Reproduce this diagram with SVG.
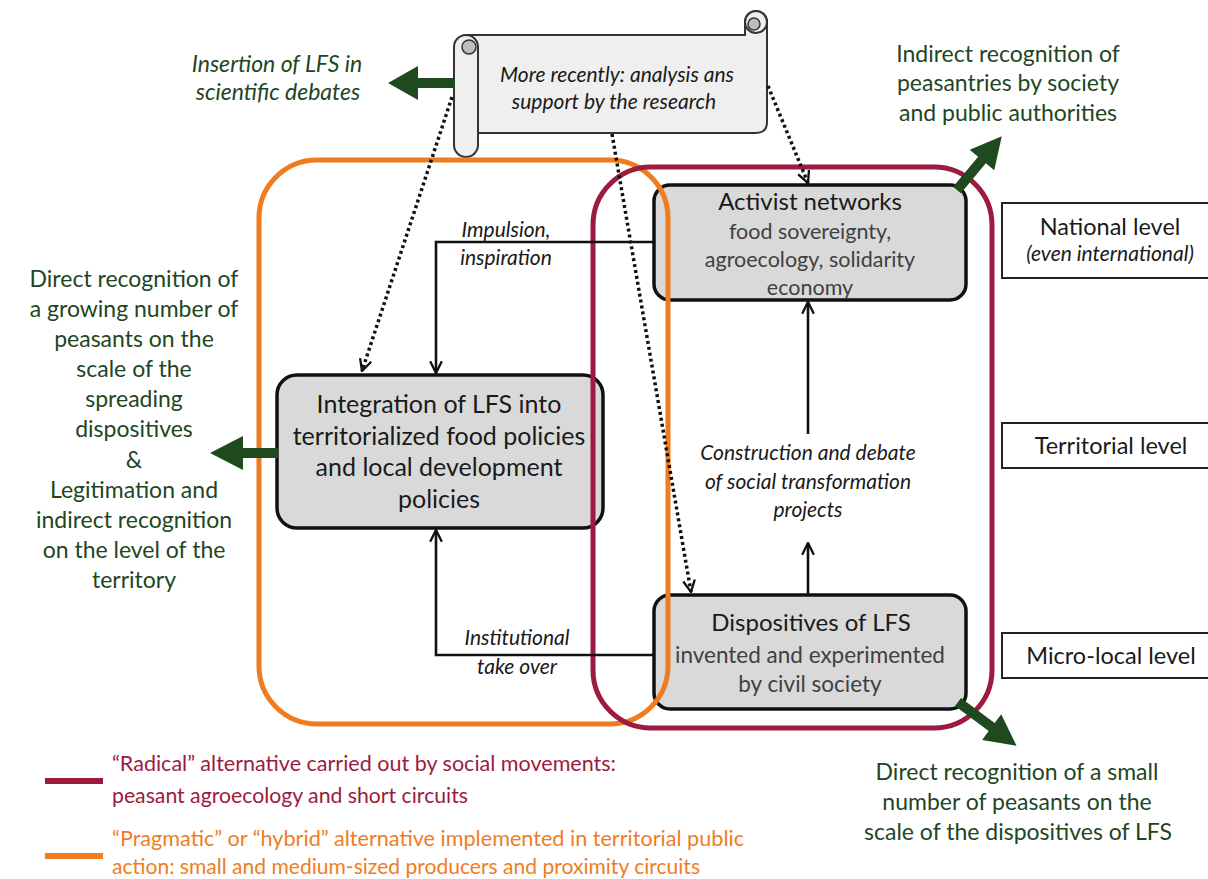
<svg xmlns="http://www.w3.org/2000/svg" width="1208" height="879" viewBox="0 0 1208 879">
  <defs>
    <style>
      .sans { font-family: Lato, "Liberation Sans", sans-serif; }
      .node { fill: #D9D9D9; stroke: #111; stroke-width: 3.5; }
      .title { font-family: Lato, "Liberation Sans", sans-serif; fill: #1a1a1a; text-anchor: middle; }
      .sub { font-family: Lato, "Liberation Sans", sans-serif; fill: #404040; text-anchor: middle; }
      .lbl { font-family: Lato, "Liberation Sans", sans-serif; font-style: italic; fill: #1a1a1a; text-anchor: middle; font-size: 21px; }
      .green { font-family: Lato, "Liberation Sans", sans-serif; fill: #1E461F; text-anchor: middle; font-size: 23px; }
      .level { fill: #fff; stroke: #222; stroke-width: 2; }
      .conn { fill: none; stroke: #111; stroke-width: 2.6; }
      .dots { fill: none; stroke: #111; stroke-width: 3.5; stroke-dasharray: 3 3; }
      .garrow { fill: #1E4A1E; }
      .scroll { fill: #EFEFEF; stroke: #333; stroke-width: 2; }
      .curl { fill: #BDBDBD; stroke: #333; stroke-width: 1.5; }
    </style>
    <marker id="head" viewBox="0 0 12 12" refX="11" refY="6" markerWidth="14" markerHeight="14" markerUnits="userSpaceOnUse" orient="auto">
      <path d="M1,1 L11,6 L1,11" fill="none" stroke="#111" stroke-width="2"/>
    </marker>
  </defs>

  <rect width="1208" height="879" fill="#fff"/>

  <!-- scroll: research -->
  <g id="research">
    <path class="scroll" d="M466,35 L745,35 L745,22 A11,11 0 0 1 767,22 L767,122 Q767,133 756,133 L466,133 Z"/>
    <circle class="scroll" cx="756" cy="22" r="11"/>
    <circle class="curl" cx="754" cy="24" r="6"/>
    <line x1="745" y1="22" x2="745" y2="35" stroke="#333" stroke-width="2"/>
    <rect class="scroll" x="454" y="35" width="24" height="122" rx="12"/>
    <circle class="curl" cx="469" cy="47" r="7"/>
    <text class="lbl" x="617" y="82">More recently: analysis ans</text>
    <text class="lbl" x="614" y="109">support by the research</text>
  </g>

  <!-- main nodes -->
  <g id="activist">
    <rect class="node" x="654" y="185" width="312" height="115" rx="16"/>
    <text class="title" x="810" y="210" font-size="24">Activist networks</text>
    <text class="sub" x="810" y="239" font-size="21.5">food sovereignty,</text>
    <text class="sub" x="810" y="267" font-size="21.5">agroecology, solidarity</text>
    <text class="sub" x="810" y="295" font-size="21.5">economy</text>
  </g>

  <g id="integration">
    <rect class="node" x="277" y="375" width="326" height="153" rx="20"/>
    <text class="title" x="439" y="413" font-size="25">Integration of LFS into</text>
    <text class="title" x="439" y="445" font-size="25">territorialized food policies</text>
    <text class="title" x="439" y="476" font-size="25">and local development</text>
    <text class="title" x="439" y="508" font-size="25">policies</text>
  </g>

  <g id="dispositives">
    <rect class="node" x="654" y="595" width="312" height="114" rx="16"/>
    <text class="title" x="811" y="631" font-size="24">Dispositives of LFS</text>
    <text class="sub" x="810" y="663" font-size="22.5">invented and experimented</text>
    <text class="sub" x="810" y="692" font-size="22.5">by civil society</text>
  </g>

  <!-- scale levels -->
  <g id="level-national">
    <rect class="level" x="1002" y="203" width="220" height="75"/>
    <text class="title" x="1110" y="235" font-size="23.5">National level</text>
    <text class="title" x="1110" y="261" font-size="21" font-style="italic">(even international)</text>
  </g>
  <g id="level-territorial">
    <rect class="level" x="1002" y="423" width="220" height="45"/>
    <text class="title" x="1111" y="454" font-size="23.5">Territorial level</text>
  </g>
  <g id="level-micro">
    <rect class="level" x="1002" y="633" width="220" height="45"/>
    <text class="title" x="1111" y="664" font-size="23.5">Micro-local level</text>
  </g>

  <!-- alternative envelopes -->
  <g id="envelope-hybrid">
    <rect x="259" y="160" width="409" height="564" rx="58" fill="none" stroke="#EF7D1F" stroke-width="5"/>
  </g>
  <g id="envelope-radical">
    <rect x="593" y="167" width="399" height="561" rx="58" fill="none" stroke="#9C1B3E" stroke-width="5"/>
  </g>

  <!-- outcome labels -->
  <g id="out-science">
    <text class="green" x="277" y="72" font-style="italic" font-size="22">Insertion of LFS in</text>
    <text class="green" x="278" y="100" font-style="italic" font-size="22">scientific debates</text>
  </g>
  <g id="out-national">
    <text class="green" x="1008" y="62">Indirect recognition of</text>
    <text class="green" x="1008" y="91">peasantries by society</text>
    <text class="green" x="1008" y="121">and public authorities</text>
  </g>
  <g id="out-territorial">
    <text class="green" x="134" y="287">Direct recognition of</text>
    <text class="green" x="134" y="317">a growing number of</text>
    <text class="green" x="134" y="347">peasants on the</text>
    <text class="green" x="134" y="377">scale of the</text>
    <text class="green" x="134" y="407">spreading</text>
    <text class="green" x="134" y="437">dispositives</text>
    <text class="green" x="134" y="468">&amp;</text>
    <text class="green" x="134" y="498">Legitimation and</text>
    <text class="green" x="134" y="528">indirect recognition</text>
    <text class="green" x="134" y="558">on the level of the</text>
    <text class="green" x="134" y="588">territory</text>
  </g>
  <g id="out-local">
    <text class="green" x="1017" y="780">Direct recognition of a small</text>
    <text class="green" x="1017" y="810">number of peasants on the</text>
    <text class="green" x="1018" y="840">scale of the dispositives of LFS</text>
  </g>

  <!-- connectors -->
  <g id="connectors">
    <!-- research influence (dotted) -->
    <line class="dots" x1="452" y1="97" x2="362" y2="371" marker-end="url(#head)"/>
    <line class="dots" x1="612" y1="134" x2="691" y2="592" marker-end="url(#head)"/>
    <line class="dots" x1="768" y1="86" x2="808" y2="183" marker-end="url(#head)"/>

    <!-- solid flows -->
    <path class="conn" d="M654,242 H436 V373" marker-end="url(#head)"/>
    <path class="conn" d="M654,655 H436 V530" marker-end="url(#head)"/>
    <line class="conn" x1="808" y1="595" x2="808" y2="543" marker-end="url(#head)"/>
    <line class="conn" x1="808" y1="434" x2="808" y2="302" marker-end="url(#head)"/>

    <!-- recognition outputs (thick green) -->
    <path class="garrow" transform="translate(455,83) rotate(180)" d="M0,-5 H37 V-17 L67,0 L37,17 V5 H0 Z"/>
    <path class="garrow" transform="translate(278,453) rotate(180)" d="M0,-5 H35 V-17 L68,0 L35,17 V5 H0 Z"/>
    <path class="garrow" transform="translate(957,190) rotate(-50.2)" d="M0,-5 H39 V-16 L70,0 L39,16 V5 H0 Z"/>
    <path class="garrow" transform="translate(958,702) rotate(36.7)" d="M0,-5 H42 V-16 L73,0 L42,16 V5 H0 Z"/>
  </g>

  <!-- flow labels -->
  <g id="flow-labels">
    <text class="lbl" x="506" y="237">Impulsion,</text>
    <text class="lbl" x="506" y="265">inspiration</text>
    <text class="lbl" x="517" y="645">Institutional</text>
    <text class="lbl" x="517" y="674">take over</text>
    <text class="lbl" x="808" y="460">Construction and debate</text>
    <text class="lbl" x="808" y="489">of social transformation</text>
    <text class="lbl" x="808" y="517">projects</text>
  </g>

  <!-- legend -->
  <g id="legend">
    <line x1="45" y1="781" x2="103" y2="781" stroke="#9C1B3E" stroke-width="6"/>
    <text class="sans" x="112" y="771" font-size="22" fill="#9C1B3E" textLength="504" lengthAdjust="spacingAndGlyphs">“Radical” alternative carried out by social movements:</text>
    <text class="sans" x="112" y="803" font-size="22" fill="#9C1B3E" textLength="356" lengthAdjust="spacingAndGlyphs">peasant agroecology and short circuits</text>
    <line x1="45" y1="856" x2="103" y2="856" stroke="#EF7D1F" stroke-width="6"/>
    <text class="sans" x="112" y="846" font-size="22" fill="#EF7D1F" textLength="632" lengthAdjust="spacingAndGlyphs">“Pragmatic” or “hybrid” alternative implemented in territorial public</text>
    <text class="sans" x="112" y="874" font-size="22" fill="#EF7D1F" textLength="588" lengthAdjust="spacingAndGlyphs">action: small and medium-sized producers and proximity circuits</text>
  </g>
</svg>
